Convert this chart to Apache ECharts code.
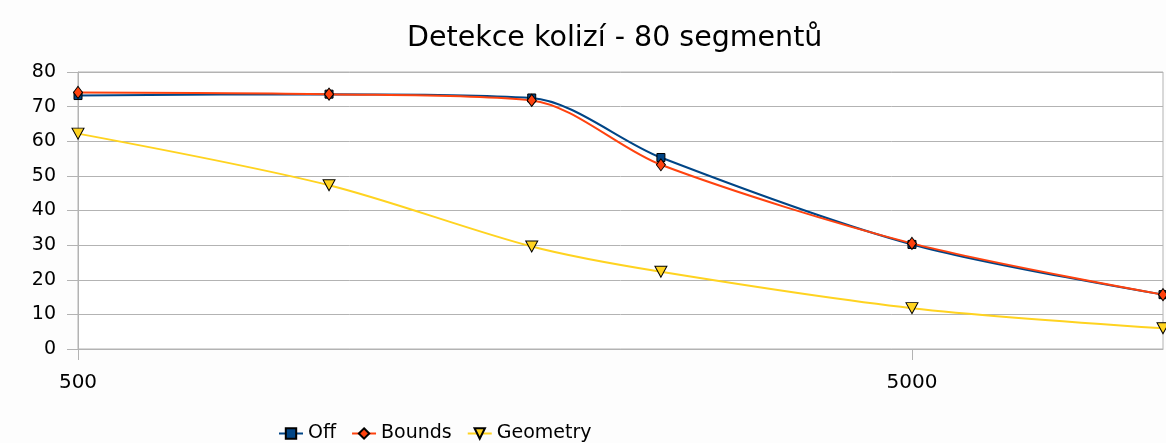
<!DOCTYPE html>
<html>
<head>
<meta charset="utf-8">
<script src="https://cdn.jsdelivr.net/npm/echarts@6/dist/echarts.min.js"></script>
<style>
  html, body { margin: 0; padding: 0; background: #fdfdfd; }
  #main { width: 1166px; height: 443px; }
</style>
</head>
<body>
<div id="main"></div>
<script>
  'use strict';

  // x values (log scale)
  var sizes = [500, 1000, 1750, 2500, 5000, 10000];
  var offValues = [73.2, 73.6, 72.5, 55.3, 30.2, 15.7];
  var boundsValues = [74.1, 73.6, 71.8, 53.2, 30.5, 15.7];
  var geometryValues = [62.2, 47.3, 29.6, 22.3, 11.8, 6.0];
  var xTickValues = [500, 5000];

  function pairs(values) {
    return sizes.map(function (x, i) { return [x, values[i]]; });
  }

  var font = '"DejaVu Sans", sans-serif';
  var chart = echarts.init(document.getElementById('main'));

  var option = {
    backgroundColor: '#fdfdfd',
    animation: false,
    title: {
      text: 'Detekce kolizí - 80 segmentů',
      left: 402,
      top: 19,
      textStyle: { fontFamily: font, fontSize: 28.5, fontWeight: 'normal', color: '#000' }
    },
    legend: {
      data: ['Off', 'Bounds', 'Geometry'],
      left: 273,
      top: 419,
      itemWidth: 24,
      itemHeight: 13,
      itemGap: 15,
      textStyle: { fontFamily: font, fontSize: 19, color: '#000' }
    },
    grid: {
      left: 78,
      right: 3,
      top: 72,
      bottom: 94,
      show: true,
      borderColor: '#b3b3b3',
      borderWidth: 1,
      backgroundColor: '#ffffff'
    },
    xAxis: {
      type: 'log',
      logBase: 10,
      min: 500,
      max: 10000,
      axisLine: { lineStyle: { color: '#b3b3b3' } },
      axisTick: { show: true, length: 11, customValues: xTickValues, lineStyle: { color: '#b3b3b3' } },
      axisLabel: {
        customValues: xTickValues,
        margin: 24,
        fontFamily: font,
        fontSize: 20,
        color: '#000',
        formatter: function (v) { return String(Math.round(v)); }
      },
      splitLine: { show: false }
    },
    yAxis: {
      type: 'value',
      min: 0,
      max: 80,
      interval: 10,
      axisLine: { show: true, lineStyle: { color: '#b3b3b3' } },
      axisTick: { show: true, length: 11, lineStyle: { color: '#b3b3b3' } },
      axisLabel: { margin: 22, fontFamily: font, fontSize: 19, color: '#000' },
      splitLine: { lineStyle: { color: '#b3b3b3', width: 1 } }
    },
    series: [
      {
        name: 'Off',
        type: 'line',
        data: pairs(offValues),
        smooth: 0.3,
        symbol: 'rect',
        symbolSize: 8,
        lineStyle: { color: '#004586', width: 2 },
        itemStyle: { color: '#004586', borderColor: '#000', borderWidth: 1 }
      },
      {
        name: 'Bounds',
        type: 'line',
        data: pairs(boundsValues),
        smooth: 0.3,
        symbol: 'diamond',
        symbolSize: [9, 12],
        lineStyle: { color: '#ff420e', width: 2 },
        itemStyle: { color: '#ff420e', borderColor: '#000', borderWidth: 1 }
      },
      {
        name: 'Geometry',
        type: 'line',
        data: pairs(geometryValues),
        smooth: 0.3,
        symbol: 'triangle',
        symbolRotate: 180,
        symbolSize: [12, 11],
        lineStyle: { color: '#ffd320', width: 2 },
        itemStyle: { color: '#ffd320', borderColor: '#000', borderWidth: 1 }
      }
    ]
  };

  chart.setOption(option);
</script>
</body>
</html>
